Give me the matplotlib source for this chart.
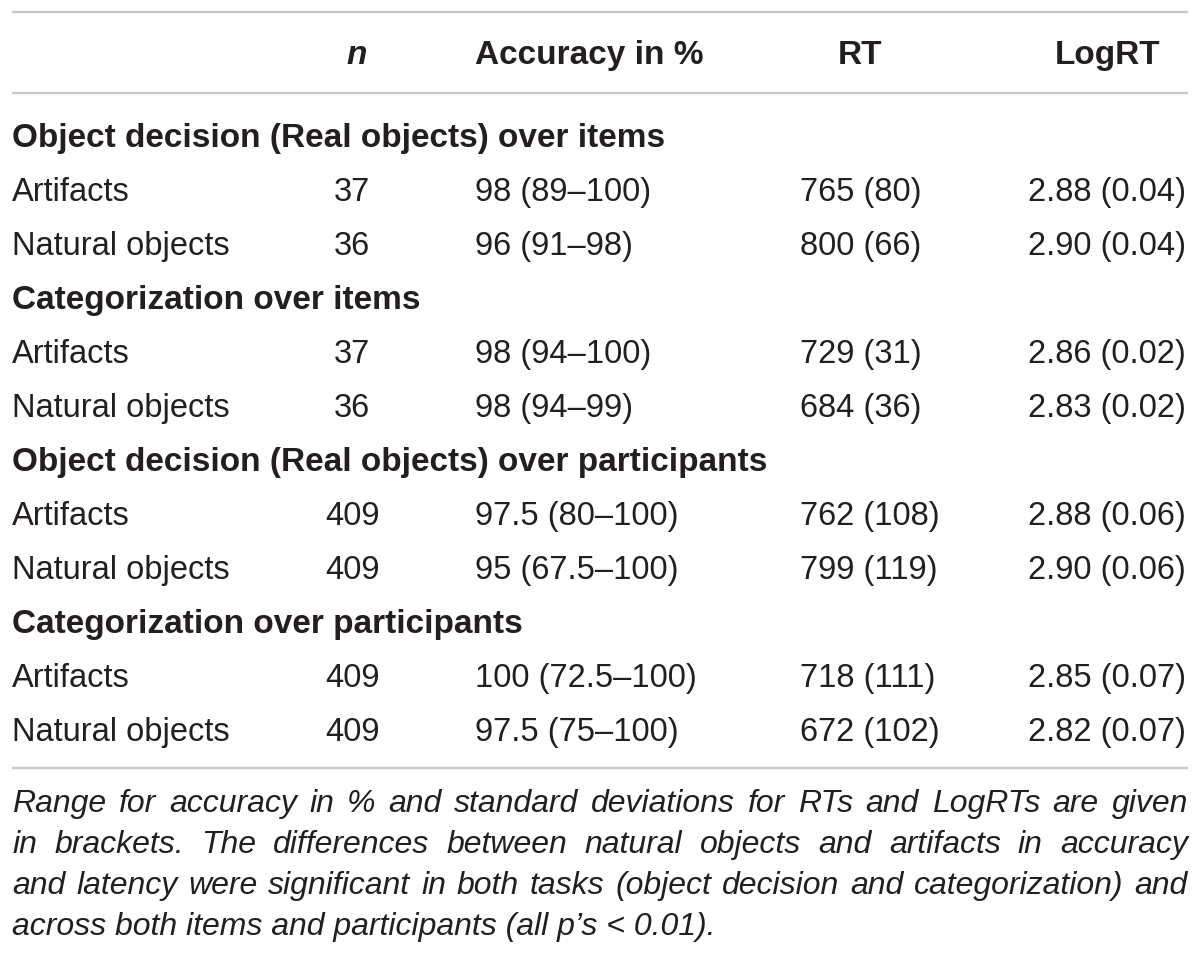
import matplotlib
matplotlib.use("Agg")
import matplotlib.pyplot as plt

plt.rcParams['font.family'] = ['Liberation Sans', 'DejaVu Sans']

headers = ["n", "Accuracy in %", "RT", "LogRT"]
groups = ["Object decision (Real objects) over items",
          "Categorization over items",
          "Object decision (Real objects) over participants",
          "Categorization over participants"]
row_labels = ["Artifacts", "Natural objects"]
n_vals = [["37", "36"], ["37", "36"], ["409", "409"], ["409", "409"]]
acc_vals = [["98 (89–100)", "96 (91–98)"],
            ["98 (94–100)", "98 (94–99)"],
            ["97.5 (80–100)", "95 (67.5–100)"],
            ["100 (72.5–100)", "97.5 (75–100)"]]
rt_vals = [["765 (80)", "800 (66)"],
           ["729 (31)", "684 (36)"],
           ["762 (108)", "799 (119)"],
           ["718 (111)", "672 (102)"]]
logrt_vals = [["2.88 (0.04)", "2.90 (0.04)"],
              ["2.86 (0.02)", "2.83 (0.02)"],
              ["2.88 (0.06)", "2.90 (0.06)"],
              ["2.85 (0.07)", "2.82 (0.07)"]]
note_lines = ["Range for accuracy in % and standard deviations for RTs and LogRTs are given",
              "in brackets. The differences between natural objects and artifacts in accuracy",
              "and latency were significant in both tasks (object decision and categorization) and",
              "across both items and participants (all p’s < 0.01)."]

W, H = 1200, 959
fig = plt.figure(figsize=(W / 100, H / 100), dpi=100)
ax = fig.add_axes([0, 0, 1, 1])
ax.set_xlim(0, W)
ax.set_ylim(H, 0)
ax.axis("off")

ink = "#231f20"
rule = "#c8c8c8"
fs = 23.5
bfs = 24
left, right = 12, 1188

for y in (12, 93, 768):
    ax.plot([left, right], [y, y], color=rule, lw=1.6, solid_capstyle="butt")

# header
hy = 64
ax.text(357, hy, headers[0], ha="center", va="baseline", fontsize=bfs,
        fontweight="bold", style="italic", color=ink)
ax.text(475, hy, headers[1], ha="left", va="baseline", fontsize=bfs,
        fontweight="bold", color=ink)
ax.text(860, hy, headers[2], ha="center", va="baseline", fontsize=bfs,
        fontweight="bold", color=ink)
ax.text(1160, hy, headers[3], ha="right", va="baseline", fontsize=bfs,
        fontweight="bold", color=ink)

step = 54.0
y = 147
for g in range(len(groups)):
    ax.text(left, y, groups[g], ha="left", va="baseline", fontsize=bfs,
            fontweight="bold", color=ink)
    y += step
    for r in range(2):
        ax.text(left, y, row_labels[r], ha="left", va="baseline", fontsize=fs, color=ink)
        ax.text(352, y, n_vals[g][r], ha="center", va="baseline", fontsize=fs, color=ink)
        ax.text(475, y, acc_vals[g][r], ha="left", va="baseline", fontsize=fs, color=ink)
        ax.text(800, y, rt_vals[g][r], ha="left", va="baseline", fontsize=fs, color=ink)
        ax.text(1186, y, logrt_vals[g][r], ha="right", va="baseline", fontsize=fs, color=ink)
        y += step

# justified italic footnote
renderer = fig.canvas.get_renderer()
nfs = 23
ny = 812
for i, line in enumerate(note_lines):
    words = line.split(" ")
    if i == len(note_lines) - 1:
        ax.text(left, ny, line, ha="left", va="baseline", fontsize=nfs,
                style="italic", color=ink)
    else:
        arts = [ax.text(0, ny, w, ha="left", va="baseline", fontsize=nfs,
                        style="italic", color=ink) for w in words]
        widths = [a.get_window_extent(renderer).width for a in arts]
        gap = (right - left - sum(widths)) / (len(words) - 1)
        x = left
        for a, w in zip(arts, widths):
            a.set_x(x)
            x += w + gap
    ny += 41

fig.savefig("out.png", dpi=100)
